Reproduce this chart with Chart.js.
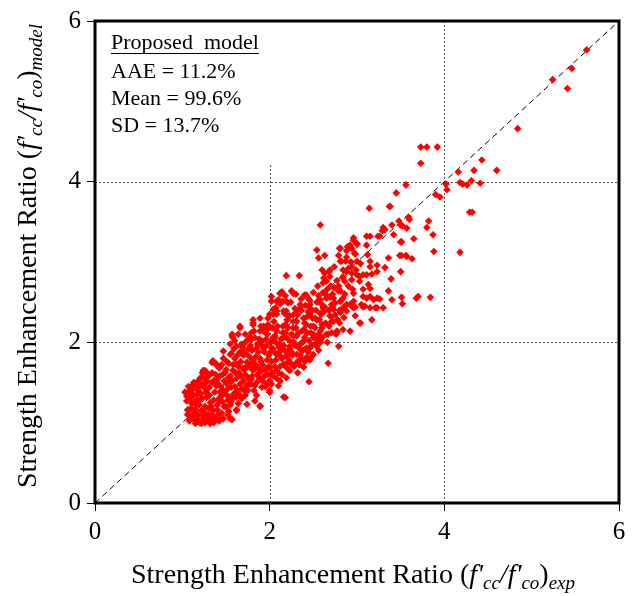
<!DOCTYPE html>
<html>
<head>
<meta charset="utf-8">
<script src="https://cdn.jsdelivr.net/npm/chart.js@4.4.1/dist/chart.umd.min.js"></script>
<style>
  html, body { margin: 0; padding: 0; background: #fff; }
  #wrap { width: 635px; height: 596px; }
</style>
</head>
<body>
<div id="wrap"><canvas id="scatterChart"></canvas></div>
<script>
const axisMin = 0;
const axisMax = 6;
const tickStep = 2;
const statTitle = 'Proposed  model';
const statLines = ['AAE = 11.2%', 'Mean = 99.6%', 'SD = 13.7%'];
const equalityLine = [[0, 0], [6, 6]];
// dotted reference lines: [x or y value, from, to]
const vLines = [[2, 0, 4.22], [4, 0, 6]];
const hLines = [[2, 0, 6], [4, 0, 6]];

const tests = [
  [5.63,5.64],[5.46,5.41],[5.24,5.27],[5.41,5.16],[4.84,4.66],[3.73,4.43],[3.80,4.43],[3.92,4.43],[3.73,4.23],[4.43,4.27],
  [4.16,4.12],[4.34,4.14],[4.60,4.14],[3.56,3.96],[4.02,3.97],[4.18,3.99],[4.21,3.97],[4.26,3.96],[4.31,4.01],[4.41,3.98],
  [4.03,3.90],[3.45,3.86],[3.90,3.84],[3.95,3.81],[3.37,3.69],[4.29,3.62],[4.32,3.62],[3.59,3.56],[3.60,3.53],[3.48,3.51],
  [3.82,3.51],[3.52,3.45],[3.57,3.42],[3.80,3.43],[3.87,3.34],[3.65,3.29],[3.51,3.25],[3.88,3.13],[4.18,3.12],[3.51,3.08],
  [3.57,3.07],[3.63,3.04],
  [3.14,3.67],[3.38,3.69],[3.50,3.46],[3.40,3.46],[3.30,3.43],[3.32,3.40],[3.29,3.39],[3.26,3.32],[3.42,3.34],[3.11,3.32],
  [3.15,3.32],[3.24,3.32],[3.50,3.25],[2.96,3.27],[2.92,3.21],[3.00,3.22],[2.89,3.19],[2.94,3.17],[3.11,3.21],[2.81,3.17],
  [2.88,3.14],[2.97,3.11],[3.12,3.09],[2.79,3.08],[3.49,3.08],[3.56,3.08],[3.36,3.05],[2.87,3.01],[2.81,3.01],[2.93,3.00],
  [3.00,3.01],[3.04,2.98],[3.15,3.01],[3.23,2.96],[3.32,2.93],[2.69,2.90],[2.84,2.90],[2.90,2.92],[2.88,2.88],[2.94,2.86],
  [3.50,2.88],[3.00,2.84],[3.07,2.84],[3.17,2.85],[2.84,2.82],[2.86,2.76],[2.77,2.77],[2.94,2.78],[3.03,2.76],[3.39,2.79],
  [3.13,2.72],[3.15,2.67],[3.36,2.64],[2.81,2.64],[2.96,2.61],[3.07,2.66],[3.51,2.56],[3.52,2.48],[3.68,2.55],[3.70,2.57],
  [3.84,2.56],[3.40,2.53],[2.73,2.55],[2.84,2.55],[3.07,2.57],[3.11,2.55],[3.19,2.53],[3.26,2.54],[2.96,2.51],[3.07,2.44],
  [3.21,2.43],[3.30,2.43],[2.75,2.49],[2.84,2.43],[2.98,2.44],
  [2.58,3.46],[2.54,3.15],[2.63,3.08],[2.56,3.05],[2.80,3.17],[2.91,3.19],[3.00,3.23],[2.96,3.30],
  [2.19,2.83],[2.34,2.83],[2.60,2.90],[2.63,2.86],[2.69,2.82],[2.82,3.01],[2.94,2.94],[3.03,2.82],[3.11,2.84],[3.15,2.94],
  [3.23,2.88],[2.61,2.74],[2.79,2.64],[3.15,2.57],[3.23,2.55],
  [2.12,2.61],[2.27,2.61],[2.42,2.59],[2.08,2.51],[2.21,2.49],[2.35,2.47],[2.46,2.52],[2.58,2.53],[2.65,2.55],[2.71,2.47],
  [2.81,2.51],[2.88,2.47],[2.92,2.47],[3.05,2.47],[3.15,2.43],[3.23,2.43],[2.61,2.43],[2.73,2.41],[2.59,2.35],[2.69,2.33],
  [2.81,2.37],[2.88,2.39],[2.96,2.43],[2.71,2.26],[3.03,2.24],[3.17,2.28],
  [2.04,2.41],[2.08,2.35],[2.16,2.39],[2.23,2.33],[2.31,2.39],[2.39,2.30],[2.46,2.35],[2.54,2.28],[2.18,2.22],[2.27,2.18],
  [2.39,2.16],[2.50,2.20],[2.58,2.14],[2.08,2.14],[2.04,2.06],[2.16,2.06],[2.27,2.08],[2.39,2.02],[2.50,2.06],[2.58,2.02],
  [2.67,2.10],[2.77,2.14],[2.84,2.16],[2.92,2.14],[2.02,1.93],[2.14,1.93],[2.23,1.95],[2.35,1.91],[2.46,1.93],[2.54,1.95],
  [2.79,1.95],[2.08,1.85],[2.19,1.83],[2.31,1.85],[2.42,1.81],[2.50,1.85],[2.35,1.79],
  [2.65,2.76],[2.14,2.63],[2.25,2.64],[2.40,2.59],[2.44,2.55],
  [2.18,1.31],[1.89,1.20],[2.00,1.40],[2.45,1.51],[2.67,1.74],[2.85,2.31],[2.98,2.33],[3.04,2.24],[3.09,2.45],[2.94,2.45],
  [2.73,2.26],[2.60,2.22],[2.77,2.12],[2.65,2.10],[2.54,2.04],[2.42,1.93],[2.31,1.75],[2.39,1.69],[2.23,1.65],[2.19,1.56],
  [2.16,1.73],[2.08,1.65],[2.12,1.52],[2.00,1.52],
  [1.03,1.38],[1.05,1.27],[1.09,1.17],[1.16,1.11],[1.24,1.05],[1.35,1.05],[1.47,1.05],[1.55,1.05],[1.15,0.99],[1.32,0.99],
  [1.62,1.15],[1.74,1.23],[1.83,1.27],[1.62,1.32],[1.43,1.27],[1.28,1.52],[1.39,1.52],[1.55,1.52],[1.43,1.69],[1.62,1.73],
  [1.74,1.69],[1.81,1.77],[1.70,1.89],[1.55,1.85],[1.24,1.65],[1.35,1.77],[1.47,1.89],[1.58,2.06],[1.66,2.18],[1.81,2.22],
  [1.89,2.30],[2.00,2.35],[2.08,2.39],[2.19,2.35],[2.35,2.43],[2.46,2.47],[1.55,1.98],[1.77,2.06],[1.85,1.93],[1.97,2.10],
  [1.57,2.08],[1.64,2.10],[1.79,2.04],[1.91,2.02],[2.06,2.06],[2.12,1.98],[1.34,1.75],[1.39,1.73],[1.26,1.65],[1.13,1.50],
  [1.11,1.46],[1.18,1.52],[1.22,1.48],[1.07,1.15],[1.09,1.05],[1.22,0.99],[1.89,1.21],[2.00,1.38],[2.02,1.48],[2.16,1.32],
  [1.81,2.24],[1.66,2.20],[2.12,2.61],[2.02,2.57],[2.02,2.51],[2.15,2.51],[2.07,2.43],[2.19,2.39],[2.04,2.35],[1.93,2.20],
  [1.98,2.22],[1.57,2.10],[1.72,2.10],[1.79,2.12],[1.89,2.14],[2.10,2.53],[2.19,2.51],[1.81,2.28],
  [1.08,1.02],[1.12,1.06],[1.06,1.10],[1.10,1.18],[1.14,1.12],[1.18,1.04],[1.16,1.22],[1.09,1.30],[1.13,1.34],[1.20,1.28],
  [1.12,1.42],[1.18,1.40],[1.07,1.45],[1.22,1.15],[1.24,1.08],[1.20,1.00],[1.15,1.48],[1.26,1.20],[1.28,1.32],[1.25,1.44],
  [1.30,1.10],[1.33,1.02],[1.35,1.15],[1.32,1.25],[1.37,1.38],[1.34,1.50],[1.30,1.58],[1.28,1.62],[1.38,1.06],[1.40,1.22],
  [1.42,1.30],[1.44,1.45],[1.40,1.55],[1.46,1.60],[1.42,1.68],[1.45,1.12],[1.48,1.20],[1.50,1.35],[1.52,1.42],[1.48,1.52],
  [1.55,1.58],[1.50,1.66],[1.53,1.74],[1.47,1.80],[1.55,1.22],[1.58,1.30],[1.60,1.45],[1.62,1.55],[1.58,1.65],[1.64,1.70],
  [1.60,1.80],[1.66,1.88],[1.62,1.95],[1.65,1.35],[1.68,1.42],[1.70,1.52],[1.72,1.60],[1.69,1.68],[1.74,1.75],[1.70,1.84],
  [1.76,1.92],[1.72,2.00],[1.75,1.40],[1.78,1.48],[1.80,1.58],[1.82,1.66],[1.79,1.74],[1.84,1.82],[1.80,1.90],[1.86,1.98],
  [1.83,2.06],[1.85,1.50],[1.88,1.56],[1.90,1.64],[1.92,1.72],[1.89,1.80],[1.94,1.88],[1.91,1.96],[1.96,2.04],[1.93,2.14],
  [1.95,1.45],[1.98,1.60],[2.00,1.68],[2.02,1.76],[1.99,1.84],[2.04,1.92],[2.01,2.00],[2.06,2.08],[2.03,2.18],[2.05,2.26],
  [2.08,1.55],[2.10,1.62],[2.12,1.70],[2.14,1.80],[2.11,1.88],[2.16,1.96],[2.13,2.04],[2.18,2.12],[2.15,2.20],[2.20,2.28],
  [2.17,2.36],[2.22,1.66],[2.24,1.74],[2.26,1.84],[2.23,1.92],[2.28,2.00],[2.25,2.10],[2.30,2.18],[2.27,2.26],[2.32,2.34],
  [2.29,2.42],[2.34,1.72],[2.36,1.80],[2.38,1.90],[2.35,1.98],[2.40,2.06],[2.37,2.14],[2.42,2.22],[2.39,2.30],[2.44,2.38],
  [2.41,2.46],[2.46,1.78],[2.48,1.96],[2.50,2.10],[2.47,2.20],[2.52,2.30],[2.49,2.40],[2.54,2.50],[2.56,1.90],[2.58,2.00],
  [2.60,2.18],[2.57,2.28],[2.62,2.38],[2.59,2.48],[2.64,2.60],[2.66,2.00],[2.68,2.20],[2.70,2.32],[2.72,2.44],[2.69,2.56],
  [2.74,2.68],[2.76,2.10],[2.78,2.28],[2.80,2.40],[2.82,2.52],[2.79,2.70],[2.84,2.80],
  [1.10,1.08],[1.15,1.16],[1.19,1.22],[1.23,1.30],[1.27,1.38],[1.31,1.44],[1.36,1.52],[1.39,1.46],[1.43,1.38],[1.41,1.10],
  [1.46,1.26],[1.51,1.48],[1.57,1.52],[1.61,1.62],[1.63,1.40],[1.67,1.58],[1.71,1.66],[1.73,1.46],[1.77,1.70],[1.81,1.78],
  [1.87,1.68],[1.97,1.78],[2.07,1.86],[2.09,1.98],[2.19,2.06],[2.21,1.86],[2.31,2.08],[2.33,1.94],[2.43,2.12],[2.45,2.02],
  [1.24,1.56],[1.21,1.36],[1.17,1.28],[1.11,1.24],[1.06,1.16],[1.26,1.00],[1.29,1.05],[1.36,1.00],[1.44,1.04],[1.52,1.10],
  [1.57,1.04],[1.62,1.16],[1.52,1.28],[1.34,1.62],[1.39,1.72],[1.56,1.86],[1.60,2.02],[1.68,1.98],[1.76,2.04],[1.82,2.14],
  [1.90,2.20],[1.98,2.30],[2.06,2.40],[2.12,2.48],[2.24,2.50],[2.18,2.58],[2.30,2.60],[2.36,2.54],[2.50,2.62],[2.55,2.70],
  [2.62,2.80],[2.68,2.88],[2.74,2.94],[2.88,3.06],[2.93,3.00],[2.98,3.10],
  [1.05,1.33],[1.08,1.40],[1.10,1.36],[1.14,1.26],[1.17,1.35],[1.19,1.44],[1.21,1.56],[1.23,1.62],[1.27,1.50],[1.29,1.42],
  [1.31,1.34],[1.33,1.20],[1.36,1.28],[1.38,1.60],[1.41,1.48],[1.43,1.58],[1.45,1.72],[1.47,1.40],[1.49,1.62],[1.51,1.76],
  [1.53,1.56],[1.54,1.32],[1.56,1.44],[1.58,1.72],[1.59,1.92],[1.61,1.38],[1.63,1.84],[1.65,1.62],[1.66,1.48],[1.67,1.76],
  [1.69,1.94],[1.71,1.40],[1.73,1.86],[1.75,1.56],[1.77,1.82],[1.78,1.96],[1.80,1.66],[1.83,1.46],[1.84,1.72],[1.86,1.60],
  [1.87,1.88],[1.88,2.04],[1.90,1.76],[1.92,1.52],[1.93,1.92],[1.95,1.66],[1.96,1.96],[1.97,2.16],[1.99,1.70],[2.01,1.88],
  [2.03,1.62],[2.05,2.02],[2.07,1.78],[2.09,2.20],[2.11,1.94],[2.13,1.82],[2.15,2.12],[2.17,1.90],[2.20,1.74],[2.21,2.18],
  [2.23,2.02],[2.25,1.88],[2.27,2.34],[2.29,1.96],[2.31,2.26],[2.33,2.12],[2.36,2.40],[2.38,2.00],[2.40,2.24],[2.43,2.32],
  [2.45,2.44],[2.47,2.12],[2.49,2.30],[2.52,2.18],[2.53,2.40],[2.56,2.58],[2.58,2.36],[2.61,2.62],[2.63,2.44],[2.66,2.66],
  [2.70,2.70],[2.72,2.60],[1.15,1.02],[1.18,1.10],[1.26,1.12],[1.30,1.18],[1.34,1.10],[1.40,1.16],[1.42,1.02],[1.46,1.34],
  [1.50,1.20],[1.53,1.14],[1.56,1.26],[1.59,1.36],[1.64,1.24],[1.68,1.30],[1.72,1.34],[1.76,1.48],[1.79,1.54],[1.82,1.40],
  [1.85,1.34],[1.91,1.44],[1.94,1.58],[1.97,1.48],[2.04,1.58],[2.06,1.70],[2.10,1.46],[2.14,1.60],[2.18,1.70],[2.22,1.78],
  [2.28,1.70],[2.32,1.62],[2.35,1.84],[2.40,1.76],[2.44,1.88],[2.48,1.82],[2.52,1.98],[2.56,2.10],[2.60,2.06],[2.64,2.24],
  [2.68,2.40],[2.71,2.12],[2.75,2.34],[2.80,2.24],[2.86,2.60],[2.90,2.70],[2.95,2.66],[2.99,2.90]
];

const serif = "'Liberation Serif', 'Times New Roman', serif";

// draws a run of text pieces with different fonts, centred on x
function drawRuns(ctx, runs, cx, baseY) {
  let total = 0;
  runs.forEach(r => { ctx.font = r.font; total += ctx.measureText(r.t).width; });
  let x = cx - total / 2;
  runs.forEach(r => {
    ctx.font = r.font;
    ctx.fillText(r.t, x, baseY + (r.dy || 0));
    x += ctx.measureText(r.t).width;
  });
}

function titleRuns(sub) {
  const big = '28px ' + serif, it = 'italic 28px ' + serif, small = 'italic 19px ' + serif;
  return [
    { t: 'Strength Enhancement Ratio ', font: big },
    { t: '(', font: big },
    { t: "f'", font: it },
    { t: 'cc', font: small, dy: 6 },
    { t: "/f'", font: it },
    { t: 'co', font: small, dy: 6 },
    { t: ')', font: big },
    { t: sub, font: small, dy: 6 }
  ];
}

const decorPlugin = {
  id: 'decor',
  beforeDatasetsDraw(chart) {
    const { ctx, scales: { x, y } } = chart;
    ctx.save();
    ctx.strokeStyle = '#555';
    ctx.lineWidth = 1;
    ctx.setLineDash([2, 2]);
    vLines.forEach(([v, a, b]) => {
      const px = Math.round(x.getPixelForValue(v)) + 0.5;
      ctx.beginPath();
      ctx.moveTo(px, y.getPixelForValue(a));
      ctx.lineTo(px, y.getPixelForValue(b));
      ctx.stroke();
    });
    hLines.forEach(([v, a, b]) => {
      const py = Math.round(y.getPixelForValue(v)) + 0.5;
      ctx.beginPath();
      ctx.moveTo(x.getPixelForValue(a), py);
      ctx.lineTo(x.getPixelForValue(b), py);
      ctx.stroke();
    });
    ctx.restore();
  },
  afterDraw(chart) {
    const { ctx, chartArea: ca } = chart;
    ctx.save();
    // frame
    ctx.strokeStyle = '#000';
    ctx.lineWidth = 3;
    ctx.strokeRect(ca.left, ca.top, ca.right - ca.left, ca.bottom - ca.top);

    // stats box
    ctx.fillStyle = '#000';
    ctx.textAlign = 'left';
    ctx.textBaseline = 'alphabetic';
    ctx.font = '22px ' + serif;
    const tx = ca.left + 16;
    ctx.fillText(statTitle, tx, 49);
    const w = ctx.measureText(statTitle).width;
    ctx.lineWidth = 1;
    ctx.beginPath();
    ctx.moveTo(tx, 53.5);
    ctx.lineTo(tx + w, 53.5);
    ctx.stroke();
    statLines.forEach((s, i) => ctx.fillText(s, tx, 78 + i * 27));

    // axis titles
    drawRuns(ctx, titleRuns('exp'), 353, 583);
    ctx.translate(36, 256);
    ctx.rotate(-Math.PI / 2);
    drawRuns(ctx, titleRuns('model'), 0, 0);
    ctx.restore();
  }
};

const tickFont = { family: serif, size: 25 };

new Chart(document.getElementById('scatterChart'), {
  type: 'scatter',
  data: {
    datasets: [
      {
        label: 'Tests',
        data: tests.map(([a, b]) => ({ x: a, y: b })),
        pointStyle: 'rectRot',
        pointRadius: 3.8,
        backgroundColor: '#ff0000',
        borderColor: '#ff0000',
        borderWidth: 0
      },
      {
        type: 'line',
        label: 'Equality',
        data: equalityLine.map(([a, b]) => ({ x: a, y: b })),
        borderColor: '#000',
        borderWidth: 1,
        borderDash: [6, 4],
        pointRadius: 0,
        fill: false
      }
    ]
  },
  options: {
    responsive: true,
    maintainAspectRatio: false,
    animation: false,
    layout: { padding: { left: 0, right: 16, top: 18, bottom: 0 } },
    plugins: {
      legend: { display: false },
      tooltip: { enabled: false }
    },
    scales: {
      x: {
        type: 'linear',
        min: axisMin,
        max: axisMax,
        afterFit(scale) { scale.height = 93; },
        ticks: { stepSize: tickStep, color: '#000', font: tickFont, padding: 6, maxRotation: 0 },
        grid: { drawOnChartArea: false, color: '#000', tickLength: 8 },
        border: { display: false }
      },
      y: {
        type: 'linear',
        min: axisMin,
        max: axisMax,
        afterFit(scale) { scale.width = 95; },
        ticks: { stepSize: tickStep, color: '#000', font: tickFont, padding: 6 },
        grid: { drawOnChartArea: false, color: '#000', tickLength: 8 },
        border: { display: false }
      }
    }
  },
  plugins: [decorPlugin]
});
</script>
</body>
</html>
